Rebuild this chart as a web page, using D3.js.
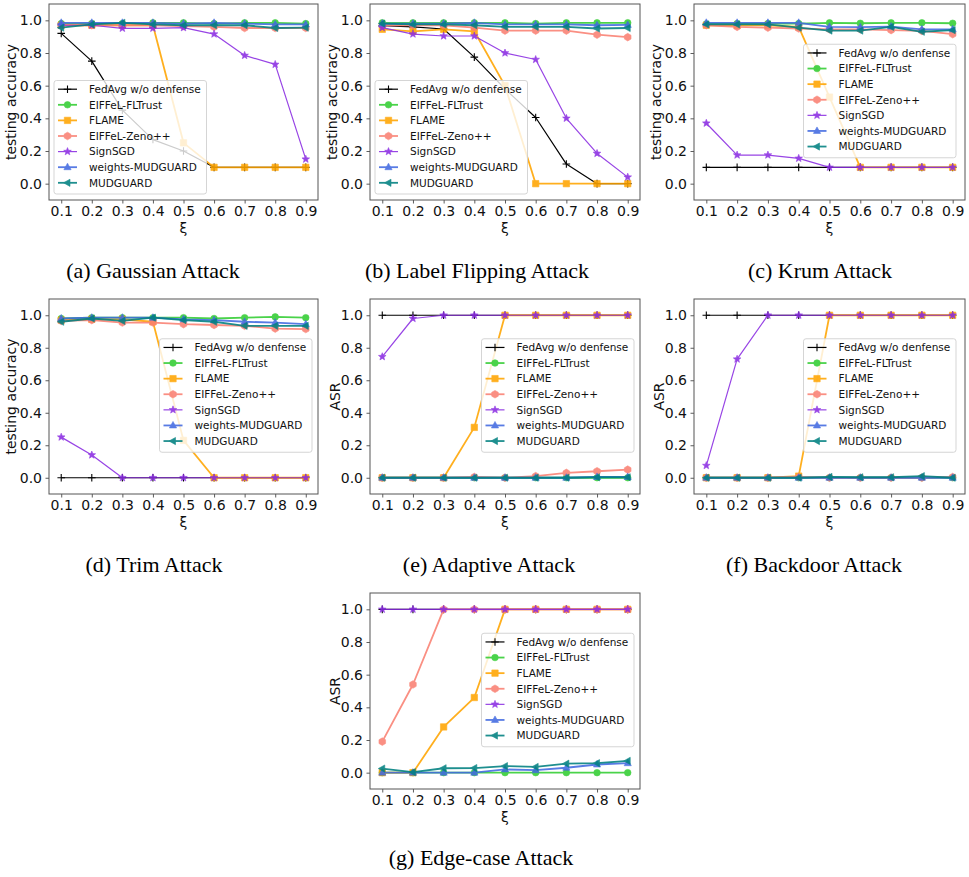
<!DOCTYPE html>
<html><head><meta charset="utf-8">
<script src="https://cdn.jsdelivr.net/npm/d3@7"></script>
<style>body{margin:0;background:#fff}</style></head>
<body><svg id="c" width="969" height="877"></svg>
<script>
// ---------- data ----------
const xi = [0.1, 0.2, 0.3, 0.4, 0.5, 0.6, 0.7, 0.8, 0.9];
const yTicks = [0.0, 0.2, 0.4, 0.6, 0.8, 1.0];
const seriesNames = ["FedAvg w/o denfense", "EIFFeL-FLTrust", "FLAME", "EIFFeL-Zeno++", "SignSGD", "weights-MUDGUARD", "MUDGUARD"];
const seriesColors = ["#000000", "#32cd32", "#ffa500", "#fa8072", "#8a2be2", "#4169e1", "#008080"];
const seriesMarkers = ["plus", "circle", "square", "hex", "star", "triUp", "triLeft"];

// rows follow seriesNames order
const gaussian = [
  [0.92, 0.75, 0.45, 0.27, 0.20, 0.10, 0.10, 0.10, 0.10],
  [0.98, 0.98, 0.98, 0.985, 0.985, 0.98, 0.985, 0.985, 0.98],
  [0.97, 0.97, 0.97, 0.97, 0.25, 0.10, 0.10, 0.10, 0.10],
  [0.97, 0.97, 0.97, 0.97, 0.965, 0.96, 0.953, 0.953, 0.953],
  [0.97, 0.97, 0.951, 0.951, 0.955, 0.916, 0.785, 0.73, 0.15],
  [0.985, 0.985, 0.985, 0.985, 0.98, 0.985, 0.98, 0.975, 0.975],
  [0.955, 0.975, 0.985, 0.975, 0.97, 0.97, 0.97, 0.953, 0.955]
];
const labelFlipping = [
  [0.967, 0.96, 0.947, 0.775, 0.58, 0.405, 0.12, 0.0, 0.0],
  [0.985, 0.985, 0.985, 0.985, 0.985, 0.98, 0.985, 0.985, 0.985],
  [0.945, 0.933, 0.945, 0.933, 0.60, 0.0, 0.0, 0.0, 0.0],
  [0.97, 0.97, 0.97, 0.955, 0.937, 0.937, 0.937, 0.912, 0.897],
  [0.955, 0.916, 0.904, 0.904, 0.80, 0.76, 0.40, 0.185, 0.04],
  [0.98, 0.98, 0.98, 0.985, 0.975, 0.975, 0.975, 0.97, 0.972],
  [0.98, 0.975, 0.975, 0.97, 0.96, 0.96, 0.96, 0.95, 0.953]
];
const krum = [
  [0.10, 0.10, 0.10, 0.10, 0.10, 0.10, 0.10, 0.10, 0.10],
  [0.978, 0.98, 0.98, 0.98, 0.985, 0.982, 0.985, 0.985, 0.982],
  [0.97, 0.97, 0.97, 0.96, 0.53, 0.10, 0.10, 0.10, 0.10],
  [0.97, 0.96, 0.955, 0.95, 0.945, 0.945, 0.94, 0.935, 0.915],
  [0.37, 0.175, 0.175, 0.155, 0.10, 0.10, 0.10, 0.10, 0.10],
  [0.985, 0.985, 0.985, 0.985, 0.96, 0.958, 0.962, 0.945, 0.945],
  [0.975, 0.975, 0.975, 0.955, 0.937, 0.937, 0.96, 0.93, 0.94]
];
const trim = [
  [0.0, 0.0, 0.0, 0.0, 0.0, 0.0, 0.0, 0.0, 0.0],
  [0.98, 0.985, 0.985, 0.985, 0.985, 0.98, 0.985, 0.99, 0.985],
  [0.97, 0.975, 0.975, 0.96, 0.23, 0.0, 0.0, 0.0, 0.0],
  [0.965, 0.97, 0.955, 0.955, 0.945, 0.94, 0.935, 0.918, 0.915],
  [0.25, 0.14, 0.0, 0.0, 0.0, 0.0, 0.0, 0.0, 0.0],
  [0.98, 0.985, 0.985, 0.985, 0.975, 0.97, 0.96, 0.955, 0.945],
  [0.96, 0.98, 0.965, 0.985, 0.97, 0.96, 0.935, 0.935, 0.935]
];
const adaptive = [
  [1.0, 1.0, 1.0, 1.0, 1.0, 1.0, 1.0, 1.0, 1.0],
  [0.0, 0.0, 0.0, 0.0, 0.0, 0.0, 0.0, 0.0, 0.0],
  [0.0, 0.0, 0.0, 0.31, 1.0, 1.0, 1.0, 1.0, 1.0],
  [0.0, 0.0, 0.0, 0.005, 0.0, 0.01, 0.03, 0.04, 0.05],
  [0.745, 0.98, 1.0, 1.0, 1.0, 1.0, 1.0, 1.0, 1.0],
  [0.0, 0.0, 0.0, 0.0, 0.0, 0.0, 0.0, 0.005, 0.005],
  [0.0, 0.0, 0.0, 0.0, 0.0, 0.0, 0.0, 0.003, 0.003]
];
const backdoor = [
  [1.0, 1.0, 1.0, 1.0, 1.0, 1.0, 1.0, 1.0, 1.0],
  [0.0, 0.0, 0.0, 0.0, 0.0, 0.0, 0.0, 0.0, 0.0],
  [0.0, 0.0, 0.0, 0.01, 1.0, 1.0, 1.0, 1.0, 1.0],
  [0.0, 0.0, 0.0, 0.005, 0.0, 0.0, 0.0, 0.0, 0.005],
  [0.075, 0.73, 1.0, 1.0, 1.0, 1.0, 1.0, 1.0, 1.0],
  [0.0, 0.0, 0.0, 0.0, 0.0, 0.0, 0.0, 0.0, 0.0],
  [0.0, 0.0, 0.0, 0.0, 0.005, 0.003, 0.003, 0.01, 0.0]
];
const edgeCase = [
  [1.0, 1.0, 1.0, 1.0, 1.0, 1.0, 1.0, 1.0, 1.0],
  [0.0, 0.0, 0.0, 0.0, 0.0, 0.0, 0.0, 0.0, 0.0],
  [0.0, 0.0, 0.28, 0.46, 1.0, 1.0, 1.0, 1.0, 1.0],
  [0.19, 0.54, 1.0, 1.0, 1.0, 1.0, 1.0, 1.0, 1.0],
  [1.0, 1.0, 1.0, 1.0, 1.0, 1.0, 1.0, 1.0, 1.0],
  [0.0, 0.0, 0.0, 0.0, 0.02, 0.015, 0.03, 0.05, 0.058],
  [0.025, 0.003, 0.027, 0.028, 0.04, 0.035, 0.055, 0.058, 0.072]
];
const yLabels = ["testing accuracy", "ASR"];
const captions = ["(a) Gaussian Attack", "(b) Label Flipping Attack", "(c) Krum Attack", "(d) Trim Attack", "(e) Adaptive Attack", "(f) Backdoor Attack", "(g) Edge-case Attack"];

// ---------- layout ----------
const panels = [
  {data: gaussian,      yl: 0, cap: 0, x0: 49,  x1: 318, y0: 4,   y1: 200, leg: "ll", capX: 153, capY: 278},
  {data: labelFlipping, yl: 0, cap: 1, x0: 370, x1: 640, y0: 4,   y1: 200, leg: "ll", capX: 477, capY: 278},
  {data: krum,          yl: 0, cap: 2, x0: 694, x1: 965, y0: 4,   y1: 200, leg: "cr", legR: 9, capX: 820, capY: 278},
  {data: trim,          yl: 0, cap: 3, x0: 49,  x1: 318, y0: 299, y1: 494, leg: "cr", legR: 6, capX: 154, capY: 572},
  {data: adaptive,      yl: 1, cap: 4, x0: 370, x1: 640, y0: 299, y1: 494, leg: "cr", legR: 6, capX: 489, capY: 572},
  {data: backdoor,      yl: 1, cap: 5, x0: 694, x1: 965, y0: 299, y1: 494, leg: "cr", legR: 9, capX: 814, capY: 572},
  {data: edgeCase,      yl: 1, cap: 6, x0: 370, x1: 640, y0: 593, y1: 789, leg: "cr", legR: 6, capX: 481, capY: 865}
];

const FONT = "DejaVu Sans, sans-serif";
const svg = d3.select("#c");
svg.append("rect").attr("width", 969).attr("height", 877).attr("fill", "#fff");

function markerPath(type) {
  switch (type) {
    case "plus": return "M-3.8,0H3.8M0,-3.8V3.8";
    case "circle": return d3.symbol(d3.symbolCircle, 34)();
    case "square": return "M-3.2,-3.2H3.2V3.2H-3.2Z";
    case "hex": {
      const r = 3.8; let p = "";
      for (let i = 0; i < 6; i++) { const a = Math.PI / 3 * i - Math.PI / 2; p += (i ? "L" : "M") + (r * Math.cos(a)).toFixed(2) + "," + (r * Math.sin(a)).toFixed(2); }
      return p + "Z";
    }
    case "star": {
      let p = "";
      for (let i = 0; i < 10; i++) { const r = i % 2 ? 1.7 : 4.0; const a = Math.PI / 5 * i - Math.PI / 2; p += (i ? "L" : "M") + (r * Math.cos(a)).toFixed(2) + "," + (r * Math.sin(a)).toFixed(2); }
      return p + "Z";
    }
    case "triUp": return "M0,-4L3.6,2.5L-3.6,2.5Z";
    case "triLeft": return "M-4,0L2.5,-3.6L2.5,3.6Z";
  }
}
function lineWidth(i) { return (i === 0 || i === 4) ? 1.2 : 1.8; }
function drawMarker(g, i, x, y) {
  const m = seriesMarkers[i], c = seriesColors[i];
  const p = g.append("path").attr("d", markerPath(m)).attr("transform", `translate(${x},${y})`);
  if (m === "plus") p.attr("fill", "none").attr("stroke", c).attr("stroke-width", 1.1);
  else p.attr("fill", c).attr("stroke", c).attr("stroke-width", 0.6);
}

panels.forEach(P => {
  const x = d3.scaleLinear().domain([0.06, 0.94]).range([P.x0, P.x1]);
  const y = d3.scaleLinear().domain([-0.1, 1.1]).range([P.y1, P.y0]);
  const g = svg.append("g");

  // series
  P.data.forEach((vals, i) => {
    const pts = xi.map((xv, k) => [x(xv), y(vals[k])]);
    const sg = g.append("g").attr("opacity", i === 0 ? 1 : 0.88);
    sg.append("path").attr("d", d3.line()(pts)).attr("fill", "none")
      .attr("stroke", seriesColors[i]).attr("stroke-width", lineWidth(i)).attr("stroke-linejoin", "round");
    pts.forEach(p => drawMarker(sg, i, p[0], p[1]));
  });

  // axes
  const ax = g.append("g").attr("transform", `translate(0,${P.y1})`)
    .call(d3.axisBottom(x).tickValues(xi).tickFormat(d3.format(".1f")).tickSize(3.5).tickPadding(2.5));
  const ay = g.append("g").attr("transform", `translate(${P.x0},0)`)
    .call(d3.axisLeft(y).tickValues(yTicks).tickFormat(d3.format(".1f")).tickSize(3.5).tickPadding(3.5));
  [ax, ay].forEach(a => {
    a.select(".domain").remove();
    a.selectAll("line").attr("stroke", "#333").attr("stroke-width", 0.8);
    a.selectAll("text").attr("font-family", FONT).attr("font-size", 14).attr("fill", "#111");
  });
  g.append("rect").attr("x", P.x0).attr("y", P.y0).attr("width", P.x1 - P.x0).attr("height", P.y1 - P.y0)
    .attr("fill", "none").attr("stroke", "#555").attr("stroke-width", 1);

  // axis labels
  g.append("text").attr("x", (P.x0 + P.x1) / 2).attr("y", P.y1 + 32.5).attr("text-anchor", "middle")
    .attr("font-family", FONT).attr("font-size", 14).attr("fill", "#111").text("ξ");
  const cy = (P.y0 + P.y1) / 2;
  const bx = P.x0 - (P.yl === 0 ? 33.5 : 30);
  g.append("text").attr("transform", `translate(${bx},${cy}) rotate(-90)`).attr("text-anchor", "middle")
    .attr("font-family", FONT).attr("font-size", 14).attr("fill", "#111").text(yLabels[P.yl]);

  // legend
  const LW = 152.5, LH = 113.5;
  let lx, ly;
  if (P.leg === "ll") { lx = P.x0 + 5; ly = P.y1 - 6 - LH; }
  else { lx = P.x1 - P.legR - LW; ly = cy - LH / 2 - 1; }
  const lg = g.append("g").attr("transform", `translate(${lx},${ly})`);
  lg.append("rect").attr("width", LW).attr("height", LH).attr("rx", 2.5)
    .attr("fill", "#fff").attr("fill-opacity", 0.8).attr("stroke", "#d0d0d0").attr("stroke-width", 0.9);
  seriesNames.forEach((name, i) => {
    const ry = 8.7 + i * 15.6;
    const row = lg.append("g").attr("opacity", i === 0 ? 1 : 0.88);
    row.append("line").attr("x1", 4).attr("x2", 23).attr("y1", ry).attr("y2", ry)
      .attr("stroke", seriesColors[i]).attr("stroke-width", lineWidth(i));
    drawMarker(row, i, 13.5, ry);
    lg.append("text").attr("x", 35).attr("y", ry + 3.8).attr("font-family", FONT).attr("font-size", 10.5)
      .attr("fill", "#111").text(name);
  });

  // caption
  svg.append("text").attr("x", P.capX).attr("y", P.capY).attr("text-anchor", "middle")
    .attr("font-family", "Liberation Serif, serif").attr("font-size", 22).attr("fill", "#000").text(captions[P.cap]);
});
</script></body></html>
